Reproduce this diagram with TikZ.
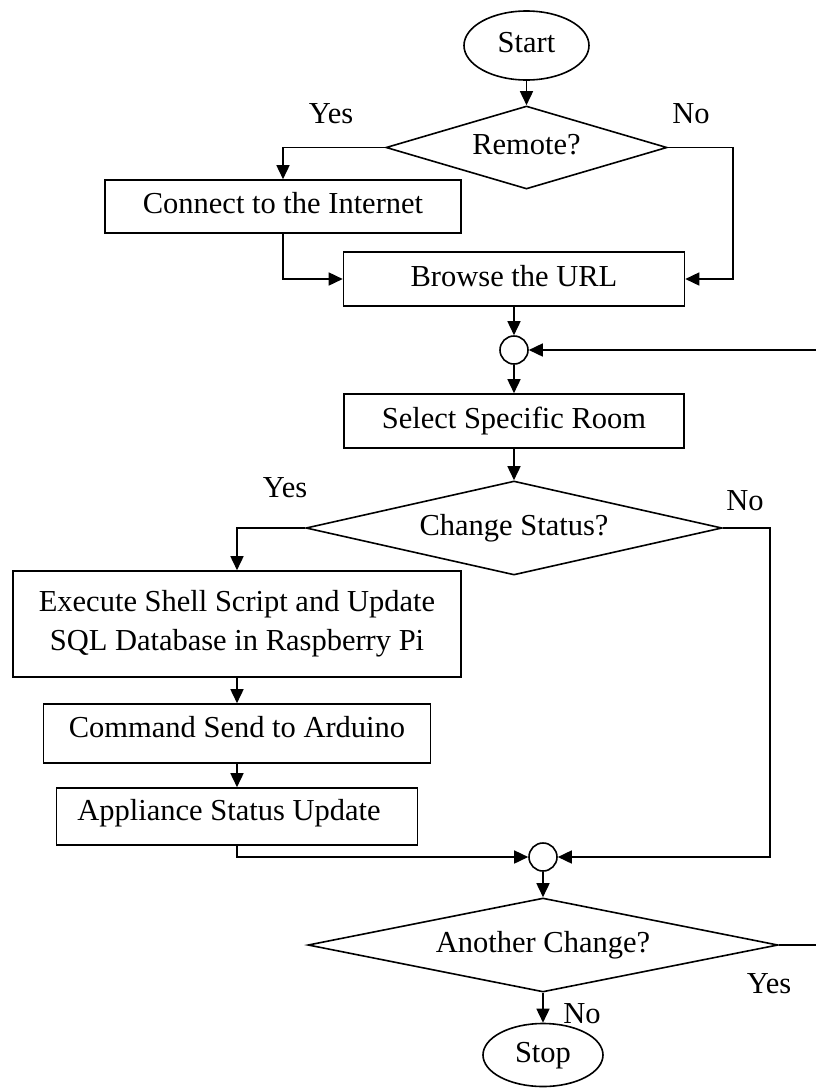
\documentclass[tikz,border=0pt]{standalone}
\usepackage{fontspec}
\setmainfont{Liberation Serif}
\usetikzlibrary{shapes.geometric,arrows.meta}
\begin{document}
\begin{tikzpicture}[x=1pt,y=-1pt,
  every node/.style={font=\fontsize{30.5}{39}\selectfont},
  box/.style={draw, rectangle, line width=1.6pt, inner sep=0pt, text height=18pt, text depth=4pt},
  lowbox/.style={box, text height=14pt, text depth=7pt},
  execbox/.style={draw, rectangle, line width=1.6pt, inner sep=0pt, align=center},
  dec/.style={draw, diamond, line width=1.6pt, inner sep=0pt, text height=18pt, text depth=4pt},
  term/.style={draw, ellipse, line width=1.6pt, inner sep=0pt, text height=18pt, text depth=4pt},
  junc/.style={draw, circle, line width=1.6pt, minimum size=28pt, inner sep=0pt},
  lbl/.style={inner sep=0pt, text height=20pt, text depth=0pt},
  arr/.style={draw, line width=1.6pt, -{Triangle[length=14pt,width=13pt]}}]
\useasboundingbox (0,0) rectangle (816,1088);
\fill[white] (0,0) rectangle (816,1088);
\clip (0,0) rectangle (816,1088);

\node[term, minimum width=125pt, minimum height=69pt] (start) at (526.5,45.5) {Start};
\node[dec, aspect=3.4, minimum width=281pt, minimum height=83pt] (remote) at (526.5,147.5) {Remote?};
\node[box, minimum width=356pt, minimum height=53pt] (connect) at (283,206.5) {Connect to the Internet};
\node[box, minimum width=341pt, minimum height=54pt] (browse) at (514,279) {Browse the URL};
\node[junc] (j1) at (514,350) {};
\node[box, minimum width=340pt, minimum height=54pt] (select) at (514,421) {Select Specific Room};
\node[dec, aspect=4.4, minimum width=416pt, minimum height=94pt] (change) at (514,528) {Change Status?};
\node[execbox, minimum width=448pt, minimum height=106pt] (execute) at (237,624) {Execute Shell Script and Update\\SQL Database in Raspberry Pi};
\node[lowbox, minimum width=387pt, minimum height=59pt] (command) at (237,733.5) {Command Send to Arduino};
\node[lowbox, minimum width=361pt, minimum height=57pt] (appliance) at (237,816.5) {Appliance Status Update\hspace*{16pt}};
\node[junc] (j2) at (543,857) {};
\node[dec, aspect=5, minimum width=470pt, minimum height=94pt] (another) at (543,945) {Another Change?};
\node[term, minimum width=120pt, minimum height=63pt] (stop) at (543,1055) {Stop};

\coordinate (noR) at (733,147.5);
\coordinate (noC) at (770,528);
\coordinate (loopR) at (840,650);

\draw[arr] (start) -- (remote);
\draw[arr] (remote.west) -| (connect.north);
\draw[arr] (connect.south) |- (browse.west);
\draw[arr] (remote.east) -- (noR) |- (browse.east);
\draw[arr] (browse) -- (j1);
\draw[arr] (j1) -- (select);
\draw[arr] (another.east) -| (loopR) |- (j1.east);
\draw[arr] (select) -- (change);
\draw[arr] (change.west) -| (execute.north);
\draw[arr] (execute) -- (command);
\draw[arr] (command) -- (appliance);
\draw[arr] (appliance.south) |- (j2.west);
\draw[arr] (change.east) -- (noC) |- (j2.east);
\draw[arr] (j2) -- (another);
\draw[arr] (another) -- (stop);

\node[lbl] (yes1) at (331,113) {Yes};
\node[lbl] (no1) at (691,113) {No};
\node[lbl] (yes2) at (285,487) {Yes};
\node[lbl] (no2) at (745,500) {No};
\node[lbl] (yes3) at (769,983) {Yes};
\node[lbl] (no3) at (582,1013) {No};
\end{tikzpicture}
\end{document}
